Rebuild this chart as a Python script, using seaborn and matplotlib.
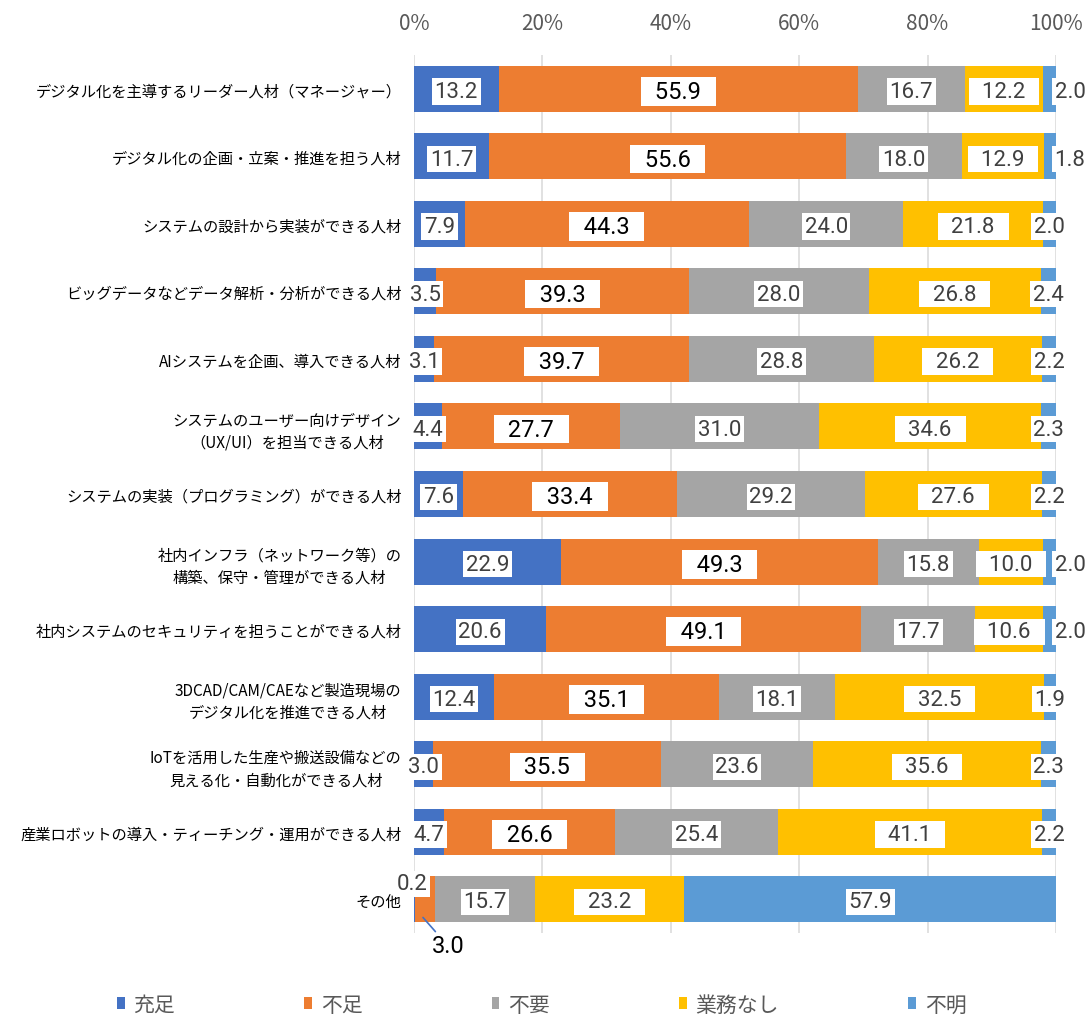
import numpy as np
import pandas as pd
import matplotlib
matplotlib.use("Agg")
import matplotlib.pyplot as plt
from matplotlib.patches import Patch
import seaborn as sns

# ---------------- data ----------------
categories = [
    "デジタル化を主導するリーダー人材（マネージャー）",
    "デジタル化の企画・立案・推進を担う人材",
    "システムの設計から実装ができる人材",
    "ビッグデータなどデータ解析・分析ができる人材",
    "AIシステムを企画、導入できる人材",
    "システムのユーザー向けデザイン\n（UX/UI）を担当できる人材",
    "システムの実装（プログラミング）ができる人材",
    "社内インフラ（ネットワーク等）の\n構築、保守・管理ができる人材",
    "社内システムのセキュリティを担うことができる人材",
    "3DCAD/CAM/CAEなど製造現場の\nデジタル化を推進できる人材",
    "IoTを活用した生産や搬送設備などの\n見える化・自動化ができる人材",
    "産業ロボットの導入・ティーチング・運用ができる人材",
    "その他",
]
series_names = ["充足", "不足", "不要", "業務なし", "不明"]
jusoku = [13.2, 11.7, 7.9, 3.5, 3.1, 4.4, 7.6, 22.9, 20.6, 12.4, 3.0, 4.7, 0.2]
fusoku = [55.9, 55.6, 44.3, 39.3, 39.7, 27.7, 33.4, 49.3, 49.1, 35.1, 35.5, 26.6, 3.0]
fuyou = [16.7, 18.0, 24.0, 28.0, 28.8, 31.0, 29.2, 15.8, 17.7, 18.1, 23.6, 25.4, 15.7]
gyomu_nashi = [12.2, 12.9, 21.8, 26.8, 26.2, 34.6, 27.6, 10.0, 10.6, 32.5, 35.6, 41.1, 23.2]
fumei = [2.0, 1.8, 2.0, 2.4, 2.2, 2.3, 2.2, 2.0, 2.0, 1.9, 2.3, 2.2, 57.9]
tick_values = [0, 20, 40, 60, 80, 100]
tick_labels = ["0%", "20%", "40%", "60%", "80%", "100%"]

# ---------------- style ----------------
palette = ["#4472C4", "#ED7D31", "#A5A5A5", "#FFC000", "#5B9BD5"]
sns.set_style("white")
plt.rcParams["font.family"] = ["Noto Sans CJK JP", "DejaVu Sans"]
NUM_FONT = ["Liberation Sans Narrow", "Roboto", "DejaVu Sans"]

values = np.array([jusoku, fusoku, fuyou, gyomu_nashi, fumei])  # (series, category)
cum = values.cumsum(axis=0)
starts = cum - values

rows = []
for k, s in enumerate(series_names):
    for i, c in enumerate(categories):
        rows.append({"category": c, "series": s, "k": k, "value": values[k, i],
                     "end": cum[k, i], "start": starts[k, i]})
df = pd.DataFrame(rows)

fig = plt.figure(figsize=(10.9, 10.2), dpi=100)
ax = fig.add_axes([414 / 1090, 1 - 934 / 1020, 642 / 1090, 878 / 1020])

# stacked bars: draw cumulative ends from last series to first
for k in range(len(series_names) - 1, -1, -1):
    sub = df[df["k"] == k]
    sns.barplot(data=sub, x="end", y="category", order=categories, color=palette[k],
                saturation=1, width=0.68, orient="h", errorbar=None, ax=ax,
                linewidth=0, zorder=2)

ax.set_xlim(0, 100)
ax.set_ylim(len(categories) - 0.5, -0.5)
ax.xaxis.tick_top()
ax.set_xticks(tick_values)
ax.set_xticklabels(tick_labels, fontsize=15, color="#595959")
ax.set_xlabel("")
ax.set_ylabel("")
ax.tick_params(axis="x", length=0, pad=15)
ax.tick_params(axis="y", length=0, pad=9, labelsize=11, labelcolor="black")
for lab in ax.get_yticklabels():
    lab.set_multialignment("center")
    lab.set_linespacing(1.4)
ax.set_axisbelow(True)
ax.grid(axis="x", color="#D9D9D9", linewidth=1.1, zorder=0)
ax.grid(axis="y", visible=False)
for sp in ax.spines.values():
    sp.set_visible(False)

# ---------------- data labels ----------------
n = len(categories)
special = {(n - 1, 0): "above", (n - 1, 1): "below"}
for i in range(n):
    for k in range(len(series_names)):
        v = values[k, i]
        cx = starts[k, i] + v / 2
        txt = f"{v:.1f}"
        wide = k in (1, 3)
        size = 17 if k == 1 else 16
        color = "black" if k == 1 else "#404040"
        s = f"  {txt}  " if wide else txt
        bbox = dict(boxstyle="square,pad=0.12", fc="white", ec="none")
        key = (i, k)
        if key in special:
            if special[key] == "above":
                ax.annotate(txt, xy=(cx, i), xytext=(-2, 11), textcoords="offset points",
                            ha="center", va="center", fontsize=size, color=color,
                            family=NUM_FONT, bbox=bbox, zorder=6, annotation_clip=False)
            else:
                ax.annotate(txt, xy=(starts[k, i] + v * 0.4, i + 0.27), xytext=(18, -20.5),
                            textcoords="offset points", ha="center", va="center",
                            fontsize=size, color=color, family=NUM_FONT,
                            bbox=dict(boxstyle="square,pad=0.12", fc="none", ec="none"),
                            arrowprops=dict(arrowstyle="-", color="#4472C4", lw=1.2,
                                            shrinkA=0, shrinkB=0),
                            zorder=6, annotation_clip=False)
            continue
        if k == 4 and gyomu_nashi[i] < 15:
            cx = 102.2
        ax.text(cx, i + 0.04, s, ha="center", va="center", fontsize=size, color=color,
                family=NUM_FONT, bbox=bbox, zorder=5, clip_on=False)

# ---------------- legend ----------------
handles = [Patch(facecolor=palette[k], edgecolor="none", label=series_names[k])
           for k in range(len(series_names))]
fig.legend(handles=handles, loc="center", bbox_to_anchor=(0.497, 0.014), ncol=5,
           frameon=False, fontsize=15, handlelength=0.37, handleheight=0.5,
           handletextpad=0.42, columnspacing=6.2, labelcolor="#595959",
           borderaxespad=0, borderpad=0)

fig.savefig("out.png", dpi=100)
